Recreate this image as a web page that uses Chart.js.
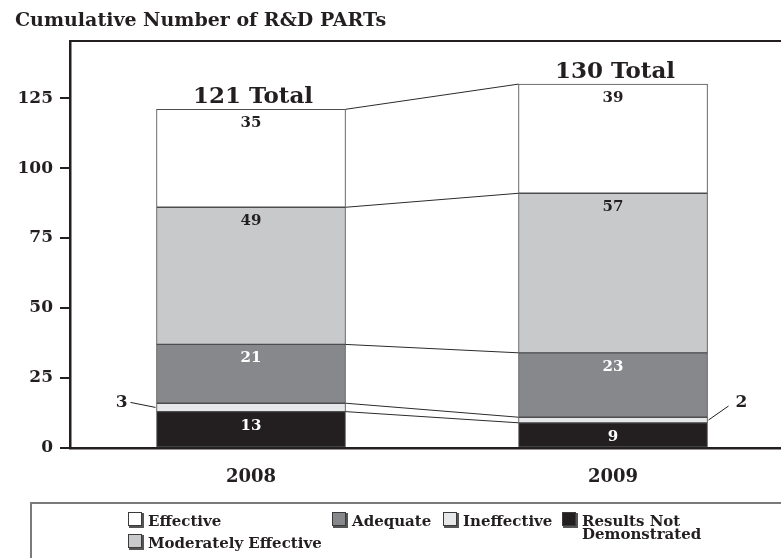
<!DOCTYPE html>
<html>
<head>
<meta charset="utf-8">
<script src="https://cdn.jsdelivr.net/npm/chart.js@4"></script>
<style>
  html, body { margin: 0; padding: 0; background: #ffffff; }
  #wrap { width: 781px; height: 558px; position: relative; }
</style>
</head>
<body>
<div id="wrap"><canvas id="c" width="781" height="558"></canvas></div>
<script>
// ---- Data ----
const years = ['2008', '2009'];
const resultsNotDemonstrated = [13, 9];
const ineffective = [3, 2];
const adequate = [21, 23];
const moderatelyEffective = [49, 57];
const effective = [35, 39];
const yTickValues = [0, 25, 50, 75, 100, 125];
const chartTitle = 'Cumulative Number of R&D PARTs';

const INK = '#231f20';
const FONT = "'DejaVu Serif', serif";

const seriesDefs = [
  { label: 'Results Not Demonstrated', values: resultsNotDemonstrated, color: '#231f20', text: '#ffffff' },
  { label: 'Ineffective', values: ineffective, color: '#e6e7e8', text: INK },
  { label: 'Adequate', values: adequate, color: '#87888b', text: '#ffffff' },
  { label: 'Moderately Effective', values: moderatelyEffective, color: '#c8c9cb', text: INK },
  { label: 'Effective', values: effective, color: '#ffffff', text: INK }
];

const datasets = seriesDefs.map(s => ({
  label: s.label,
  data: s.values.map((v, i) => ({ x: i, y: v })),
  backgroundColor: s.color,
  borderColor: '#4d4d4f',
  borderWidth: 1,
  borderSkipped: false,
  barThickness: 189
}));

const totals = years.map((_, i) => seriesDefs.reduce((a, s) => a + s.values[i], 0));

const overlay = {
  id: 'overlay',
  afterDatasetsDraw(chart) {
    const ctx = chart.ctx;
    const metas = chart.data.datasets.map((_, i) => chart.getDatasetMeta(i));
    ctx.save();
    // connector lines between bars at each cumulative boundary
    ctx.strokeStyle = '#2b2b2b';
    ctx.lineWidth = 1;
    metas.forEach(m => {
      const a = m.data[0], b = m.data[1];
      ctx.beginPath();
      ctx.moveTo(a.x + a.width / 2, a.y);
      ctx.lineTo(b.x - b.width / 2, b.y);
      ctx.stroke();
    });
    // value labels
    metas.forEach((m, di) => {
      const def = seriesDefs[di];
      m.data.forEach((el, i) => {
        const v = def.values[i];
        const h = el.base - el.y;
        if (h > 15) {
          ctx.font = 'bold 15px ' + FONT;
          ctx.fillStyle = def.text;
          ctx.textAlign = 'center';
          ctx.textBaseline = 'middle';
          ctx.fillText(String(v), el.x, el.y + 14);
        } else {
          const mid = (el.y + el.base) / 2;
          ctx.font = 'bold 17px ' + FONT;
          ctx.fillStyle = INK;
          ctx.textBaseline = 'middle';
          ctx.strokeStyle = INK;
          ctx.lineWidth = 1;
          ctx.beginPath();
          if (i === 0) {
            const edge = el.x - el.width / 2;
            ctx.moveTo(edge - 1, mid);
            ctx.lineTo(edge - 26, mid - 5);
            ctx.stroke();
            ctx.textAlign = 'right';
            ctx.fillText(String(v), edge - 29, mid - 5);
          } else {
            const edge = el.x + el.width / 2;
            ctx.moveTo(edge + 1, mid);
            ctx.lineTo(edge + 21, mid - 14);
            ctx.stroke();
            ctx.textAlign = 'left';
            ctx.fillText(String(v), edge + 28, mid - 17);
          }
        }
      });
    });
    // totals
    const topMeta = metas[metas.length - 1];
    topMeta.data.forEach((el, i) => {
      ctx.font = 'bold 23px ' + FONT;
      ctx.fillStyle = INK;
      ctx.textAlign = 'center';
      ctx.textBaseline = 'alphabetic';
      ctx.fillText(totals[i] + ' Total', el.x + 2, el.y - 6);
    });
    ctx.restore();
  },
  afterDraw(chart) {
    const ctx = chart.ctx;
    const area = chart.chartArea;
    ctx.save();
    // top frame line
    ctx.strokeStyle = INK;
    ctx.lineWidth = 2;
    ctx.beginPath();
    ctx.moveTo(area.left - 1, area.top);
    ctx.lineTo(chart.width, area.top);
    ctx.stroke();
    // title
    ctx.font = 'bold 19px ' + FONT;
    ctx.fillStyle = INK;
    ctx.textAlign = 'left';
    ctx.textBaseline = 'alphabetic';
    ctx.fillText(chartTitle, 15, 26);
    // legend box
    ctx.strokeStyle = '#7a7a7a';
    ctx.lineWidth = 2;
    ctx.beginPath();
    ctx.moveTo(31, chart.height + 2);
    ctx.lineTo(31, 503);
    ctx.lineTo(chart.width + 2, 503);
    ctx.stroke();
    // legend entries
    const items = [
      { ds: 4, x: 128, y: 512, lines: ['Effective'] },
      { ds: 2, x: 332, y: 512, lines: ['Adequate'] },
      { ds: 1, x: 443, y: 512, lines: ['Ineffective'] },
      { ds: 0, x: 562, y: 512, lines: ['Results Not', 'Demonstrated'] },
      { ds: 3, x: 128, y: 534, lines: ['Moderately Effective'] }
    ];
    items.forEach(it => {
      const def = seriesDefs[it.ds];
      ctx.fillStyle = '#555';
      ctx.fillRect(it.x + 1, it.y + 1, 15, 15);
      ctx.fillStyle = def.color;
      ctx.fillRect(it.x, it.y, 14, 14);
      ctx.strokeStyle = '#3a3a3a';
      ctx.lineWidth = 1;
      ctx.strokeRect(it.x + 0.5, it.y + 0.5, 13, 13);
      ctx.font = 'bold 15px ' + FONT;
      ctx.fillStyle = INK;
      ctx.textAlign = 'left';
      ctx.textBaseline = 'alphabetic';
      it.lines.forEach((t, k) => ctx.fillText(t, it.x + 20, it.y + 14 + k * 13));
    });
    ctx.restore();
  }
};

new Chart(document.getElementById('c'), {
  type: 'bar',
  data: { datasets },
  options: {
    responsive: false,
    devicePixelRatio: 1,
    animation: false,
    layout: { padding: { top: 41, left: 0, right: 0, bottom: 0 } },
    plugins: { legend: { display: false }, tooltip: { enabled: false }, title: { display: false } },
    scales: {
      x: {
        type: 'linear',
        offset: false,
        min: -0.5,
        max: 1.464,
        stacked: true,
        grid: { display: false, drawTicks: false },
        border: { display: true, color: INK, width: 2.5 },
        afterBuildTicks: s => { s.ticks = years.map((_, i) => ({ value: i })); },
        afterFit: s => { s.height = 110; },
        ticks: {
          maxRotation: 0,
          autoSkip: false,
          padding: 19,
          color: INK,
          font: { family: FONT, size: 18, weight: 'bold' },
          callback: v => years[v]
        }
      },
      y: {
        stacked: true,
        min: 0,
        max: 145.4,
        afterBuildTicks: s => { s.ticks = yTickValues.map(v => ({ value: v })); },
        afterFit: s => { s.width = 70; },
        grid: { drawOnChartArea: false, drawTicks: true, tickLength: 10, color: INK, lineWidth: 2 },
        border: { display: true, color: INK, width: 2.5 },
        ticks: {
          padding: 7,
          color: INK,
          font: { family: FONT, size: 17, weight: 'bold' }
        }
      }
    }
  },
  plugins: [overlay]
});
</script>
</body>
</html>
